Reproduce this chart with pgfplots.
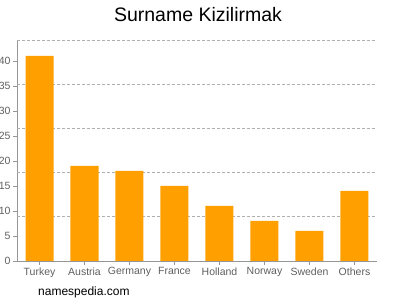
\documentclass[border=0pt]{standalone}
\usepackage{fontspec}
\setmainfont{Liberation Sans}
\usepackage{pgfplots}
\pgfplotsset{compat=1.18}
\definecolor{barc}{RGB}{255,160,0}
\definecolor{axc}{RGB}{150,150,150}
\definecolor{gridc}{RGB}{175,175,175}
\definecolor{txc}{RGB}{95,95,95}
\begin{document}
\begin{tikzpicture}[x=1pt,y=1pt]
\path[use as bounding box] (0,0) rectangle (400,300);
\begin{axis}[
  at={(17pt,39pt)}, anchor=south west,
  scale only axis, width=360pt, height=221pt,
  xmin=-0.5, xmax=7.5, ymin=0, ymax=44.2,
  axis x line*=bottom, axis y line*=left,
  axis line style={axc, line width=0.8pt},
  xtick={0,...,7},
  xticklabels={Turkey,Austria,Germany,France,Holland,Norway,Sweden,Others},
  ytick={0,5,...,40},
  tick style={axc, line width=0.6pt},
  major tick length=4pt,
  tick align=outside,
  ticklabel style={font=\fontsize{10.5}{12}\selectfont, text=txc},
  /pgf/number format/assume math mode=true,
  yticklabel style={xshift=1pt},
  xticklabel style={yshift=1pt},
  extra y ticks={8.84,17.68,26.52,35.36,44.2},
  extra y tick labels={},
  extra y tick style={grid=major, major tick length=0pt},
  major grid style={gridc, dash pattern=on 3pt off 2pt, line width=0.6pt},
  ybar, bar width=28pt,
  clip=false,
]
\addplot[fill=barc, draw=none] coordinates {(0,41) (1,19) (2,18) (3,15) (4,11) (5,8) (6,6) (7,14)};
\end{axis}
\node[font=\fontsize{19.5}{23}\selectfont] at (198,285) {Surname Kizilirmak};
\node[font=\fontsize{12}{14}\selectfont, anchor=west, inner sep=0pt] at (38,8) {namespedia.com};
\end{tikzpicture}
\end{document}
